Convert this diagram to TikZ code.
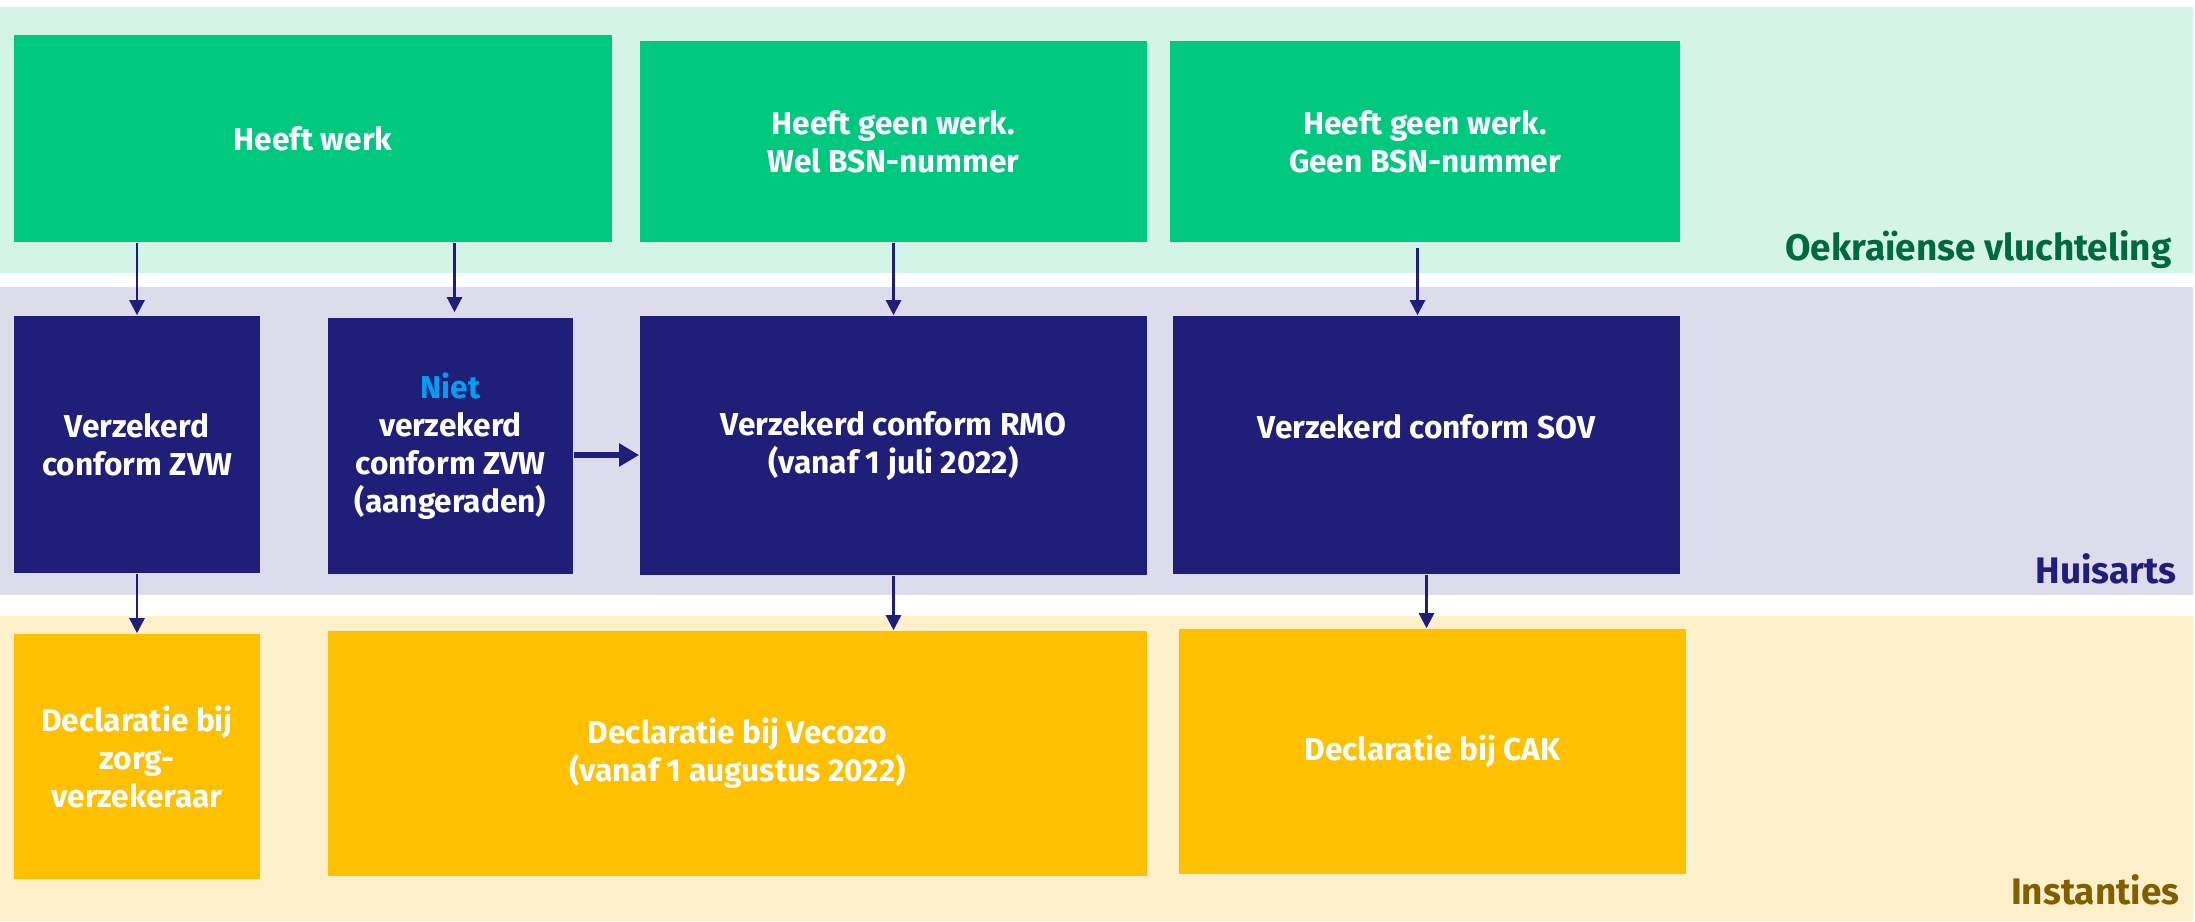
\documentclass[tikz,border=0pt]{standalone}
\usepackage{fontspec}
\setmainfont{Fira Sans}
\usetikzlibrary{arrows.meta}

\definecolor{mintband}{RGB}{211,244,230}
\definecolor{lavband}{RGB}{220,220,234}
\definecolor{creamband}{RGB}{255,240,204}
\definecolor{werkgreen}{RGB}{0,200,126}
\definecolor{navybox}{RGB}{31,31,122}
\definecolor{gelbox}{RGB}{255,192,0}
\definecolor{labgreen}{RGB}{0,105,62}
\definecolor{labbrown}{RGB}{127,95,0}
\definecolor{nietblue}{RGB}{0,160,240}

\tikzset{
  box/.style={inner sep=0pt, align=center, text=white, font=\bfseries\fontsize{9}{10.8}\selectfont},
  greenbox/.style={box, fill=werkgreen},
  navbox/.style={box, fill=navybox},
  yelbox/.style={box, fill=gelbox},
  bandlabel/.style={anchor=base east, inner sep=0pt, font=\bfseries\fontsize{10.5}{13}\selectfont},
  pijl/.style={navybox, line width=0.7pt, -{Triangle[width=0.15cm,length=0.15cm]}},
}

\begin{document}
\begin{tikzpicture}[x=0.01cm, y=-0.01cm]
    \useasboundingbox (0,0) rectangle (2195,921);

    % bands
    \fill[mintband] (0,7) rectangle (2193,273);
    \fill[lavband] (0,287) rectangle (2193,595);
    \fill[creamband] (0,616) rectangle (2193,921);

    % vluchteling
    \node[greenbox, minimum width=5.98cm, minimum height=2.07cm] (werk) at (313,138.5) {Heeft werk};
    \node[greenbox, minimum width=5.07cm, minimum height=2.01cm] (bsn) at (893.5,141.5) {Heeft geen werk.\\Wel BSN-nummer};
    \node[greenbox, minimum width=5.10cm, minimum height=2.01cm] (geenbsn) at (1425,141.5) {Heeft geen werk.\\Geen BSN-nummer};

    % huisarts
    \node[navbox, minimum width=2.46cm, minimum height=2.57cm] (zvw) at (137,444.5) {Verzekerd\\conform ZVW};
    \node[navbox, minimum width=2.45cm, minimum height=2.56cm] (nietzvw) at (450.5,446) {\textcolor{nietblue}{Niet}\\verzekerd\\conform ZVW\\(aangeraden)};
    \node[navbox, minimum width=5.07cm, minimum height=2.59cm] (rmo) at (893.5,445.5) {Verzekerd conform RMO\\(vanaf 1 juli 2022)};
    \node[navbox, minimum width=5.07cm, minimum height=2.58cm] (sov) at (1426.5,445) {Verzekerd conform SOV\\\phantom{X}};

    % instanties
    \node[yelbox, minimum width=2.46cm, minimum height=2.45cm] (zorgv) at (137,756.5) {Declaratie bij\\zorg-\\verzekeraar};
    \node[yelbox, minimum width=8.19cm, minimum height=2.45cm] (vecozo) at (737.5,753.5) {Declaratie bij Vecozo\\(vanaf 1 augustus 2022)};
    \node[yelbox, minimum width=5.07cm, minimum height=2.45cm] (cak) at (1432.5,751.5) {Declaratie bij CAK};

    \node[bandlabel, text=labgreen] (lab1) at (2172,260) {Oekraïense vluchteling};
    \node[bandlabel, text=navybox] (lab2) at (2177,583) {Huisarts};
    \node[bandlabel, text=labbrown] (lab3) at (2180,904) {Instanties};

    % pijlen
    \draw[pijl] (werk.south -| zvw.north) -- (zvw.north);
    \draw[pijl, shorten >=0.05cm] ([xshift=0.04cm]werk.south -| nietzvw.north) -- ([xshift=0.04cm]nietzvw.north);
    \draw[pijl] (bsn.south) -- (rmo.north);
    \draw[pijl, shorten <=0.05cm] ([xshift=-0.09cm]geenbsn.south -| sov.north) -- ([xshift=-0.09cm]sov.north);
    \draw[pijl] (zvw.south) -- (zorgv.north);
    \draw[pijl] (rmo.south) -- (rmo.south |- vecozo.north);
    \draw[pijl] (sov.south) -- (sov.south |- cak.north);
    \draw[pijl, line width=1.6pt, -{Triangle[width=0.22cm,length=0.2cm]}] ([yshift=-0.09cm]nietzvw.east) -- ([yshift=-0.09cm]nietzvw.east -| rmo.west);
\end{tikzpicture}
\end{document}
